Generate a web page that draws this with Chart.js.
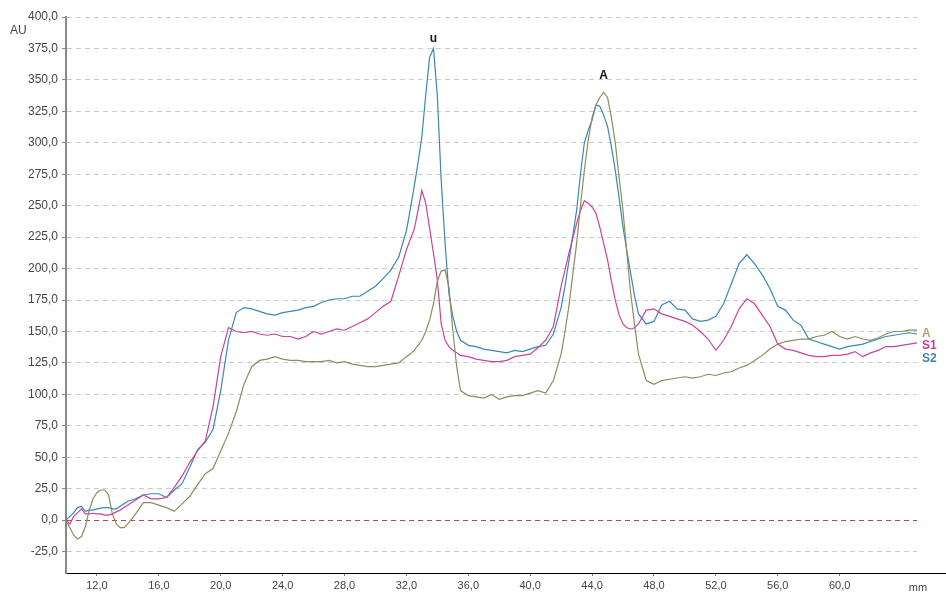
<!DOCTYPE html>
<html>
<head>
<meta charset="utf-8">
<title>Densitogram</title>
<script src="https://cdn.jsdelivr.net/npm/chart.js@4.4.1/dist/chart.umd.min.js"></script>
<style>
  html, body { margin: 0; padding: 0; background: #fff; }
  canvas { display: block; }
</style>
</head>
<body>
<canvas id="scan" width="946" height="594"></canvas>
<script>
// track position (mm) of every sample
const positions = [
  10, 10.25, 10.5, 10.75, 11, 11.25, 11.5, 11.75, 12, 12.25, 12.5, 12.75, 13, 13.25, 13.5, 13.75, 14,
  14.5, 15, 15.5, 16, 16.5, 17, 17.5, 18, 18.5, 19, 19.5, 20, 20.5, 21, 21.5, 22, 22.5, 23, 23.5,
  24, 24.5, 25, 25.5, 26, 26.5, 27, 27.5, 28, 28.5, 29, 29.5, 30, 30.5, 31, 31.5, 32,
  32.25, 32.5, 32.75, 33, 33.25, 33.5, 33.75, 34, 34.25, 34.5, 34.75, 35, 35.25, 35.5,
  36, 36.5, 37, 37.5, 38, 38.5, 39, 39.5, 40, 40.5, 41, 41.5, 42,
  42.25, 42.5, 42.75, 43, 43.25, 43.5, 43.75, 44, 44.25, 44.5, 44.75, 45, 45.25, 45.5, 45.75, 46, 46.25, 46.5, 46.75, 47,
  47.5, 48, 48.5, 49, 49.5, 50, 50.5, 51, 51.5, 52, 52.5, 53, 53.5, 54, 54.5, 55, 55.5, 56,
  56.5, 57, 57.5, 58, 58.5, 59, 59.5, 60, 60.5, 61, 61.5, 62, 62.5, 63, 63.5, 64, 64.5, 65
];

// AU values, same order as positions
const trackA = [
  0, -6, -12, -15, -13, -5, 8, 17, 22, 24, 24, 20, 5, -3, -6, -6, -3,
  5, 14, 14, 12, 10, 7, 13, 19, 28, 37, 41, 55, 69, 86, 108, 122, 127, 128, 130,
  128, 127, 127, 126, 126, 126, 127, 125, 126, 124, 123, 122, 122, 123, 124, 125, 130,
  132, 135, 139, 143, 150, 159, 172, 190, 198, 199, 185, 151, 122, 103,
  99, 98, 97, 100, 96, 98, 99, 99, 101, 103, 101, 111, 132,
  150, 170, 195, 220, 250, 278, 302, 320, 330, 336, 340, 336, 320, 300, 272, 246, 212, 180, 155, 132,
  111, 108, 111, 112, 113, 114, 113, 114, 116, 115, 117, 118, 121, 123, 127, 131, 136, 140,
  142, 143, 144, 144, 146, 147, 150, 146, 144, 146, 144, 143, 145, 148, 150, 150, 151, 151
];

const trackS1 = [
  0, -3, 3, 6, 9, 5, 5, 5.5, 5, 5, 4, 4, 5, 6.6, 8, 10, 12,
  16, 20, 17, 17, 18, 26, 35, 46, 55, 63, 90, 130, 153, 150, 149, 150, 148, 147, 148,
  146, 146, 144, 146, 150, 148, 150, 152, 151, 154, 157, 160, 165, 170, 174, 194, 215,
  223, 231, 246, 262, 252, 232, 212, 191, 156, 143, 138, 135, 133, 131,
  130, 128, 127, 126, 126, 127, 130, 131, 132, 137, 143, 154, 186,
  199, 212, 224, 236, 246, 254, 252, 249, 244, 233, 220, 207, 190, 175, 163, 156, 153, 152, 153, 156,
  167, 168, 164, 162, 160, 158, 155, 150, 144, 135, 143, 154, 168, 176, 172, 163, 154, 140,
  136, 135, 133, 131, 130, 130, 131, 131, 132, 134, 130, 133, 135, 138, 138, 139, 140, 141
];

const trackS2 = [
  0, 3, 6, 10, 11, 7, 8, 8, 9, 9.5, 10, 10, 9, 9, 11, 13, 15,
  17, 20, 21, 21, 18, 24, 29, 42, 56, 62, 72, 103, 143, 165, 169, 168, 166, 164, 163,
  165, 166, 167, 169, 170, 173, 175, 176, 176, 178, 178, 182, 186, 192, 199, 209, 230,
  247, 265, 284, 305, 338, 368, 375, 337, 270, 220, 180, 162, 150, 143,
  139, 138, 136, 135, 134, 133, 135, 134, 136, 138, 139, 148, 169,
  186, 206, 226, 246, 275, 300, 310, 318, 330, 329, 322, 313, 297, 278, 256, 233, 214, 196, 178, 164,
  156, 158, 171, 174, 168, 167, 160, 158, 159, 162, 172, 188, 204, 211, 204, 195, 184, 170,
  167, 159, 155, 144, 142, 140, 138, 136, 138, 139, 140, 142, 144, 146, 147, 148, 149, 148
];

const seriesNames = ["A", "S1", "S2"];
const seriesColors = ["#8e8c5e", "#c8449f", "#3a88b3"];
const nameColors = ["#b3a57a", "#c23c98", "#4a84a6"];

const xTicks = [12, 16, 20, 24, 28, 32, 36, 40, 44, 48, 52, 56, 60];
const yTicks = [-25, 0, 25, 50, 75, 100, 125, 150, 175, 200, 225, 250, 275, 300, 325, 350, 375, 400];

// peak labels: text and the track whose maximum it sits on
const peakNames = ["u", "A"];
const peakTracks = [trackS2, trackA];

const tracks = [trackA, trackS1, trackS2];

function comma(v) {
  return v.toFixed(1).replace(".", ",");
}

// extra text around the plot (units, peak and track names)
const overlay = {
  id: "overlay",
  afterDraw(chart) {
    const ctx = chart.ctx;
    const area = chart.chartArea;
    const xs = chart.scales.x;
    const ys = chart.scales.y;
    ctx.save();

    // bottom axis runs on past the grid
    ctx.strokeStyle = "#000";
    ctx.lineWidth = 1;
    ctx.beginPath();
    ctx.moveTo(area.right, area.bottom + 0.5);
    ctx.lineTo(chart.width, area.bottom + 0.5);
    ctx.stroke();

    ctx.font = "11px 'Liberation Sans', sans-serif";
    ctx.fillStyle = "#444";
    ctx.textAlign = "center";
    ctx.textBaseline = "middle";
    ctx.fillText("mm", 918, area.bottom + 15);

    ctx.font = "12px 'Liberation Sans', sans-serif";
    ctx.fillStyle = "#3c4452";
    ctx.textAlign = "left";
    ctx.fillText("AU", 10, 31);

    // peak names
    const lifts = [10, 17];
    ctx.font = "bold 12px 'Liberation Sans', sans-serif";
    ctx.fillStyle = "#111";
    ctx.textAlign = "center";
    peakNames.forEach((name, k) => {
      const t = peakTracks[k];
      let best = 0;
      t.forEach((v, i) => { if (v > t[best]) best = i; });
      ctx.fillText(name, xs.getPixelForValue(positions[best]), ys.getPixelForValue(t[best]) - lifts[k]);
    });

    // track names at the right end, stacked
    ctx.textAlign = "left";
    const y0 = ys.getPixelForValue(trackA[trackA.length - 1]) + 3;
    seriesNames.forEach((name, k) => {
      ctx.fillStyle = nameColors[k];
      ctx.fillText(name, area.right + 5, y0 + k * 12.5);
    });

    ctx.restore();
  },
};

new Chart(document.getElementById("scan"), {
  type: "line",
  data: {
    datasets: tracks.map((t, k) => ({
      label: seriesNames[k],
      data: positions.map((x, i) => ({ x: x, y: t[i] })),
      borderColor: seriesColors[k],
      borderWidth: 1.2,
      pointRadius: 0,
      tension: 0,
      fill: false,
    })),
  },
  options: {
    responsive: false,
    animation: false,
    devicePixelRatio: 1,
    layout: { padding: { top: 17, right: 29, left: 0, bottom: 0 } },
    plugins: { legend: { display: false }, tooltip: { enabled: false } },
    scales: {
      x: {
        type: "linear",
        min: 10,
        max: 65,
        afterBuildTicks: (s) => { s.ticks = xTicks.map((v) => ({ value: v })); },
        afterFit: (s) => { s.height = 21; },
        grid: { display: true, drawOnChartArea: false, drawTicks: true, tickLength: 3, tickColor: "#777" },
        border: { display: true, color: "#000", width: 1 },
        ticks: {
          padding: 3,
          maxRotation: 0,
          autoSkip: false,
          color: "#444",
          font: { family: "'Liberation Sans', sans-serif", size: 11 },
          callback: (v) => comma(v),
        },
      },
      y: {
        min: -42,
        max: 400,
        afterBuildTicks: (s) => { s.ticks = yTicks.map((v) => ({ value: v })); },
        afterFit: (s) => { s.width = 66; },
        grid: {
          color: (c) => (c.tick && c.tick.value === 0 ? "#c9404a" : "#cccccc"),
          lineWidth: 1,
          drawTicks: true,
          tickLength: 4,
          tickColor: "#888",
        },
        border: { display: true, color: "#8a8a8a", width: 2, dash: [5, 4] },
        ticks: {
          padding: 4,
          autoSkip: false,
          color: "#444",
          font: { family: "'Liberation Sans', sans-serif", size: 12 },
          callback: (v) => comma(v),
        },
      },
    },
  },
  plugins: [overlay],
});
</script>
</body>
</html>
